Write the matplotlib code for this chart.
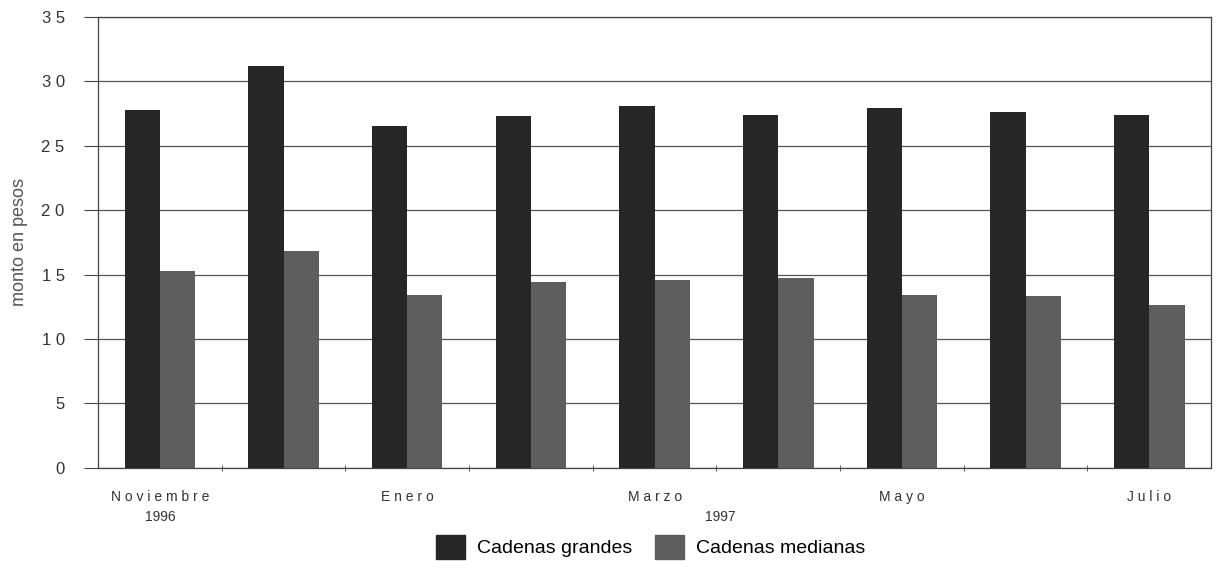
import matplotlib.pyplot as plt
import numpy as np
from matplotlib.patches import Patch

plt.rcParams['font.family'] = ['Liberation Sans', 'DejaVu Sans']

meses = ["Noviembre", "Diciembre", "Enero", "Febrero", "Marzo", "Abril", "Mayo", "Junio", "Julio"]
cadenas_grandes = [27.8, 31.2, 26.5, 27.3, 28.1, 27.4, 27.9, 27.6, 27.4]
cadenas_medianas = [15.3, 16.8, 13.4, 14.4, 14.6, 14.7, 13.4, 13.3, 12.6]
etiquetas_x = ["N o v i e m b r e\n1996", "", "E n e r o", "", "M a r z o", "", "M a y o", "", "J u l i o"]
etiquetas_y = ["0", "5", "1 0", "1 5", "2 0", "2 5", "3 0", "3 5"]

fig = plt.figure(figsize=(12.16, 5.61), dpi=100)
ax = fig.add_axes([0.0806, 0.166, 0.9154, 0.804])

x = np.arange(len(meses))
ancho = 0.285
ax.bar(x - ancho / 2, cadenas_grandes, ancho, color="#262626", zorder=3)
ax.bar(x + ancho / 2, cadenas_medianas, ancho, color="#5e5e5e", zorder=3)

ax.set_xlim(-0.5, len(meses) - 0.5)
ax.set_ylim(0, 35)
ax.set_yticks(np.arange(0, 36, 5))
ax.set_yticklabels(etiquetas_y, fontsize=12, color="#333333")
ax.set_xticks(x)
ax.set_xticklabels(etiquetas_x, fontsize=10, color="#333333", linespacing=1.5)
ax.set_xticks(np.arange(0.5, len(meses) - 0.5, 1), minor=True)
ax.tick_params(axis="x", which="major", length=0, pad=16)
ax.tick_params(axis="x", which="minor", length=5, direction="inout", color="#444444")
ax.tick_params(axis="y", length=10, color="#444444", pad=14)
ax.grid(True, axis="y", color="#555555", linewidth=0.9, zorder=0)
for s in ax.spines.values():
    s.set_color("#444444")
    s.set_linewidth(0.9)

ax.set_ylabel("monto en pesos", fontsize=13, color="#555555", labelpad=10)
fig.text(720 / 1216, 1 - 517 / 561, "1997", fontsize=10, color="#333333", ha="center", va="center")

leyenda = [Patch(color="#262626", label="Cadenas grandes"),
           Patch(color="#5e5e5e", label="Cadenas medianas")]
fig.legend(handles=leyenda, loc="center", bbox_to_anchor=(0.535, 1 - 547 / 561), ncol=2,
           frameon=False, fontsize=14, handlelength=1.5, handleheight=1.5, columnspacing=1.2,
           handletextpad=0.6)

fig.savefig("out.png", dpi=100)
